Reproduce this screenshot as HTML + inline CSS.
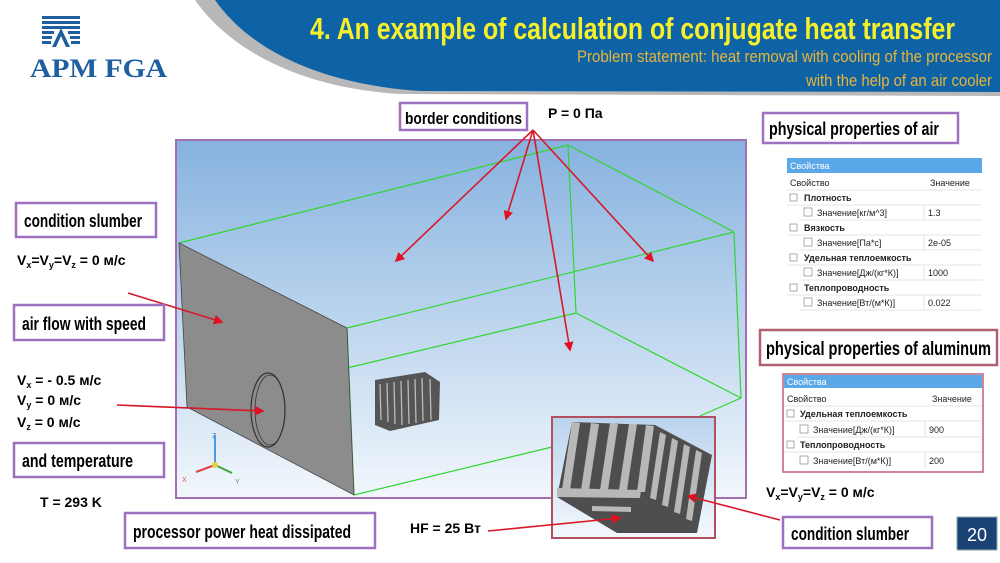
<!DOCTYPE html>
<html><head><meta charset="utf-8"><style>
html,body{margin:0;padding:0;background:#fff}
svg{display:block}
.lb{font-family:"Liberation Sans Narrow","Liberation Sans",sans-serif;font-weight:bold;fill:#000}
.eq{font-family:"Liberation Sans",sans-serif;font-weight:bold;fill:#000;font-size:14px}
.tb{font-family:"Liberation Sans","DejaVu Sans",sans-serif;font-size:9px;fill:#222}
</style></head><body>
<svg width="1000" height="563" viewBox="0 0 1000 563" xmlns="http://www.w3.org/2000/svg">
<defs>
<linearGradient id="bg" x1="0" y1="0" x2="0" y2="1"><stop offset="0" stop-color="#86b2df"/><stop offset="1" stop-color="#f2f7fc"/></linearGradient>
<linearGradient id="ig" x1="0" y1="0" x2="0" y2="1"><stop offset="0" stop-color="#b9d3ee"/><stop offset="1" stop-color="#f4f8fc"/></linearGradient>
</defs>
<!-- header -->
<path d="M195,0 C230,50 300,88 400,94 L1000,96 L1000,0 Z" fill="#b8b8b8"/>
<path d="M215,0 C250,50 320,84 420,91 L1000,92 L1000,0 Z" fill="#0d63a6"/>
<text x="310" y="39" font-family="Liberation Sans Narrow,Liberation Sans,sans-serif" font-weight="bold" font-size="31" fill="#f6f02a" textLength="645" lengthAdjust="spacingAndGlyphs">4. An example of calculation of conjugate heat transfer</text>
<text x="577" y="62" font-family="Liberation Sans Narrow,Liberation Sans,sans-serif" font-size="17" fill="#e9b43a" textLength="415" lengthAdjust="spacingAndGlyphs">Problem statement: heat removal with cooling of the processor</text>
<text x="806" y="86" font-family="Liberation Sans Narrow,Liberation Sans,sans-serif" font-size="17" fill="#e9b43a" textLength="186" lengthAdjust="spacingAndGlyphs">with the help of an air cooler</text>
<!-- logo -->
<g fill="#1f5fa0">
<rect x="42" y="16" width="38" height="3"/><rect x="42" y="21" width="38" height="3"/><rect x="42" y="26" width="38" height="3"/>
<rect x="42" y="31" width="12" height="3"/><rect x="68" y="31" width="12" height="3"/>
<rect x="42" y="36" width="10" height="3"/><rect x="70" y="36" width="10" height="3"/>
<rect x="42" y="41" width="9" height="3"/><rect x="71" y="41" width="9" height="3"/>
<path d="M61,28 L52,47 L56,47 L61,36 L66,47 L70,47 Z"/>
</g>
<text x="30" y="77" font-family="Liberation Serif,serif" font-weight="bold" font-size="26" fill="#1f5fa0" textLength="137" lengthAdjust="spacingAndGlyphs">APM FGA</text>

<!-- main scene -->
<rect x="176" y="140" width="570" height="358" fill="url(#bg)" stroke="#a070b0" stroke-width="2"/>
<g stroke="#2fd62f" stroke-width="1.2" fill="none">
<line x1="179" y1="243" x2="568" y2="145"/>
<line x1="568" y1="145" x2="734" y2="232"/>
<line x1="347" y1="328" x2="734" y2="232"/>
<line x1="568" y1="145" x2="576" y2="313"/>
<line x1="347" y1="368" x2="576" y2="313"/>
<line x1="576" y1="313" x2="741" y2="398"/>
<line x1="734" y1="232" x2="741" y2="398"/>
<line x1="354" y1="495" x2="552" y2="447"/>
<line x1="741" y1="398" x2="700" y2="416"/>
<line x1="347" y1="328" x2="354" y2="495"/>
</g>
<polygon points="179,243 347,328 354,495 187,407" fill="#8c8c8c" stroke="#444" stroke-width="0.8"/>
<ellipse cx="268" cy="410" rx="17" ry="37" fill="#8c8c8c" stroke="#333" stroke-width="1.2"/>
<ellipse cx="270" cy="410" rx="15" ry="35" fill="none" stroke="#333" stroke-width="0.8"/>
<!-- small heatsink -->
<g>
<polygon points="375,380 425,372 440,382 439,420 390,431 375,425" fill="#555"/>
<g stroke="#bbb" stroke-width="1.3">
<line x1="380" y1="384" x2="381" y2="420"/><line x1="387" y1="383" x2="388" y2="422"/><line x1="394" y1="382" x2="395" y2="424"/><line x1="401" y1="381" x2="402" y2="425"/><line x1="408" y1="380" x2="409" y2="424"/><line x1="415" y1="379" x2="416" y2="423"/><line x1="422" y1="378" x2="423" y2="421"/><line x1="430" y1="379" x2="431" y2="420"/>
</g>
</g>
<!-- axis -->
<g stroke-width="2">
<line x1="215" y1="465" x2="215" y2="435" stroke="#4a9be0"/>
<line x1="215" y1="465" x2="196" y2="472" stroke="#e04040"/>
<line x1="215" y1="465" x2="232" y2="473" stroke="#40a040"/>
<circle cx="215" cy="465" r="3" fill="#e8d040" stroke="none"/>
</g>
<text x="182" y="482" font-family="Liberation Sans,sans-serif" font-size="7" fill="#d06060">X</text>
<text x="235" y="484" font-family="Liberation Sans,sans-serif" font-size="7" fill="#5a9a5a">Y</text>
<text x="212" y="438" font-family="Liberation Sans,sans-serif" font-size="7" fill="#5a8ac0">Z</text>

<!-- inset -->
<rect x="552" y="417" width="163" height="121" fill="url(#ig)" stroke="#b05060" stroke-width="2"/>
<polygon points="557,497 572,422 655,425 712,455 697,533 617,533" fill="#4e4e4e"/>
<g fill="#b8b8b8">
<polygon points="572,422 580,423 570,490 562,490"/>
<polygon points="591,423 599,424 589,490 581,490"/>
<polygon points="610,423 618,424 608,490 600,490"/>
<polygon points="629,424 637,424 627,490 619,490"/>
<polygon points="646,425 654,426 645,492 637,492"/>
<polygon points="557,488 641,490 640,498 557,497"/>
<polygon points="660,432 666,435 656,500 650,498"/>
<polygon points="672,438 678,441 668,507 662,505"/>
<polygon points="684,444 690,447 680,514 674,512"/>
<polygon points="696,450 702,453 692,521 686,519"/>
<polygon points="592,506 631,507 631,512 592,511"/>
</g>

<!-- arrows -->
<defs><marker id="ah" markerWidth="6" markerHeight="6" refX="5" refY="3" orient="auto"><path d="M0,0 L6,3 L0,6 Z" fill="#e01020"/></marker></defs>
<g stroke="#d81828" stroke-width="1.6" fill="none" marker-end="url(#ah)">
<line x1="533" y1="130" x2="396" y2="261"/>
<line x1="533" y1="130" x2="506" y2="219"/>
<line x1="533" y1="130" x2="570" y2="350"/>
<line x1="533" y1="130" x2="653" y2="261"/>
<line x1="128" y1="293" x2="222" y2="322"/>
<line x1="117" y1="405" x2="263" y2="411"/>
<line x1="488" y1="531" x2="620" y2="518"/>
<line x1="780" y1="520" x2="688" y2="496"/>
</g>

<!-- labels -->
<g fill="#fff" stroke="#a070c0" stroke-width="2.5">
<rect x="400" y="103" width="127" height="27"/>
<rect x="763" y="113" width="195" height="30"/>
<rect x="16" y="203" width="140" height="34"/>
<rect x="14" y="305" width="150" height="35"/>
<rect x="14" y="443" width="150" height="34"/>
<rect x="125" y="513" width="250" height="35"/>
<rect x="783" y="517" width="149" height="31"/>
</g>
<rect x="760" y="330" width="237" height="35" fill="#fff" stroke="#b06070" stroke-width="2.5"/>
<text class="lb" x="405" y="124" font-size="17" textLength="117" lengthAdjust="spacingAndGlyphs">border conditions</text>
<text class="lb" x="769" y="135" font-size="18" textLength="170" lengthAdjust="spacingAndGlyphs">physical properties of air</text>
<text class="lb" x="24" y="227" font-size="18" textLength="118" lengthAdjust="spacingAndGlyphs">condition slumber</text>
<text class="lb" x="22" y="330" font-size="18" textLength="124" lengthAdjust="spacingAndGlyphs">air flow with speed</text>
<text class="lb" x="22" y="467" font-size="18" textLength="111" lengthAdjust="spacingAndGlyphs">and temperature</text>
<text class="lb" x="133" y="538" font-size="18" textLength="218" lengthAdjust="spacingAndGlyphs">processor power heat dissipated</text>
<text class="lb" x="791" y="540" font-size="18" textLength="118" lengthAdjust="spacingAndGlyphs">condition slumber</text>
<text class="lb" x="766" y="355" font-size="19" textLength="225" lengthAdjust="spacingAndGlyphs">physical properties of aluminum</text>

<text class="eq" x="548" y="118">P = 0 Па</text>
<text class="eq" x="17" y="265">V<tspan font-size="9" dy="3">x</tspan><tspan dy="-3">=V</tspan><tspan font-size="9" dy="3">y</tspan><tspan dy="-3">=V</tspan><tspan font-size="9" dy="3">z</tspan><tspan dy="-3"> = 0 м/с</tspan></text>
<text class="eq" x="17" y="385">V<tspan font-size="9" dy="3">x</tspan><tspan dy="-3"> = - 0.5 м/с</tspan></text>
<text class="eq" x="17" y="405">V<tspan font-size="9" dy="3">y</tspan><tspan dy="-3"> = 0 м/с</tspan></text>
<text class="eq" x="17" y="427">V<tspan font-size="9" dy="3">z</tspan><tspan dy="-3"> = 0 м/с</tspan></text>
<text class="eq" x="40" y="507">T = 293 K</text>
<text class="eq" x="410" y="533">HF = 25 Вт</text>
<text class="eq" x="766" y="497">V<tspan font-size="9" dy="3">x</tspan><tspan dy="-3">=V</tspan><tspan font-size="9" dy="3">y</tspan><tspan dy="-3">=V</tspan><tspan font-size="9" dy="3">z</tspan><tspan dy="-3"> = 0 м/с</tspan></text>

<!-- page number -->
<rect x="957" y="517" width="40" height="33" fill="#1a4275" stroke="#8aa" stroke-width="1"/>
<text x="977" y="541" text-anchor="middle" font-family="Liberation Sans,sans-serif" font-size="18" fill="#fff">20</text>

<!-- air table -->
<g>
<rect x="787" y="158" width="195" height="152" fill="#fff"/>
<rect x="787" y="158" width="195" height="15" fill="#5aa8e8"/>
<text class="tb" x="790" y="169" fill="#fff" style="fill:#fff">Свойства</text>
<text class="tb" x="790" y="186">Свойство</text><text class="tb" x="930" y="186">Значение</text>
<g stroke="#ddd" stroke-width="0.8">
<line x1="787" y1="190" x2="982" y2="190"/><line x1="787" y1="205" x2="982" y2="205"/><line x1="800" y1="220" x2="982" y2="220"/><line x1="787" y1="235" x2="982" y2="235"/><line x1="800" y1="250" x2="982" y2="250"/><line x1="787" y1="265" x2="982" y2="265"/><line x1="800" y1="280" x2="982" y2="280"/><line x1="787" y1="295" x2="982" y2="295"/><line x1="800" y1="310" x2="982" y2="310"/>
<line x1="924" y1="205" x2="924" y2="220"/><line x1="924" y1="235" x2="924" y2="250"/><line x1="924" y1="265" x2="924" y2="280"/><line x1="924" y1="295" x2="924" y2="310"/>
</g>
<g font-weight="bold">
<text class="tb" x="804" y="201" font-weight="bold">Плотность</text>
<text class="tb" x="804" y="231" font-weight="bold">Вязкость</text>
<text class="tb" x="804" y="261" font-weight="bold">Удельная теплоемкость</text>
<text class="tb" x="804" y="291" font-weight="bold">Теплопроводность</text>
</g>
<g fill="none" stroke="#888" stroke-width="0.7"><rect x="790" y="194" width="7" height="7"/><rect x="790" y="224" width="7" height="7"/><rect x="790" y="254" width="7" height="7"/><rect x="790" y="284" width="7" height="7"/>
<rect x="804" y="208" width="8" height="8"/><rect x="804" y="238" width="8" height="8"/><rect x="804" y="268" width="8" height="8"/><rect x="804" y="298" width="8" height="8"/></g>
<text class="tb" x="817" y="216">Значение[кг/м^3]</text><text class="tb" x="928" y="216">1.3</text>
<text class="tb" x="817" y="246">Значение[Па*с]</text><text class="tb" x="928" y="246">2e-05</text>
<text class="tb" x="817" y="276">Значение[Дж/(кг*К)]</text><text class="tb" x="928" y="276">1000</text>
<text class="tb" x="817" y="306">Значение[Вт/(м*К)]</text><text class="tb" x="928" y="306">0.022</text>
</g>
<!-- aluminum table -->
<g>
<rect x="783" y="374" width="200" height="98" fill="#fff" stroke="#c06070" stroke-width="1.5"/>
<rect x="784" y="375" width="198" height="13" fill="#5aa8e8"/>
<text class="tb" x="787" y="385" style="fill:#fff">Свойства</text>
<text class="tb" x="787" y="402">Свойство</text><text class="tb" x="932" y="402">Значение</text>
<g stroke="#ddd" stroke-width="0.8">
<line x1="784" y1="406" x2="982" y2="406"/><line x1="784" y1="421" x2="982" y2="421"/><line x1="797" y1="437" x2="982" y2="437"/><line x1="784" y1="452" x2="982" y2="452"/>
<line x1="925" y1="421" x2="925" y2="437"/><line x1="925" y1="452" x2="925" y2="468"/>
</g>
<text class="tb" x="800" y="417" font-weight="bold">Удельная теплоемкость</text>
<text class="tb" x="800" y="448" font-weight="bold">Теплопроводность</text>
<g fill="none" stroke="#888" stroke-width="0.7"><rect x="787" y="410" width="7" height="7"/><rect x="787" y="441" width="7" height="7"/><rect x="800" y="425" width="8" height="8"/><rect x="800" y="456" width="8" height="8"/></g>
<text class="tb" x="813" y="433">Значение[Дж/(кг*К)]</text><text class="tb" x="929" y="433">900</text>
<text class="tb" x="813" y="464">Значение[Вт/(м*К)]</text><text class="tb" x="929" y="464">200</text>
</g>
</svg>
</body></html>
